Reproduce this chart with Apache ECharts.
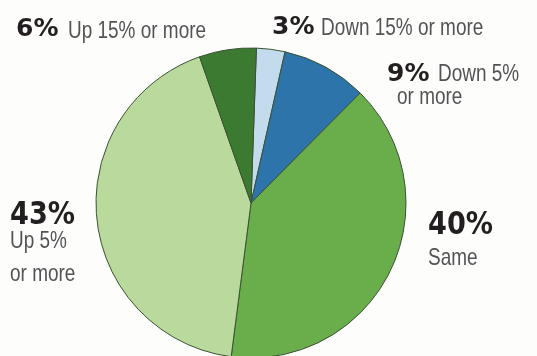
<!DOCTYPE html>
<html>
<head>
<meta charset="utf-8">
<style>
  html, body { margin: 0; padding: 0; background: #fdfdfb; }
  #chart { width: 537px; height: 356px; }
</style>
<script src="https://cdn.jsdelivr.net/npm/echarts@6/dist/echarts.min.js"></script>
</head>
<body>
<div id="chart"></div>
<script>
// Share of respondents by expected change, clockwise from the top
const categories = ['Down 15% or more', 'Down 5%\nor more', 'Same', 'Up 5%\nor more', 'Up 15% or more'];
const shares = [3, 9, 40, 43, 6];
const sliceColors = ['#c2dcee', '#2c74aa', '#6aad4b', '#bad99c', '#3d7a31'];

// Where each annotation sits: percentage baseline, then one baseline per text line
const labelLayout = [
  { px: 272, pb: 36, size: 25, sx: 1.0, lines: [[321, 37]] },
  { px: 387, pb: 83, size: 25, sx: 1.0, lines: [[438, 83], [397, 106]] },
  { px: 428, pb: 237, size: 32, sx: 0.85, lines: [[428, 267]] },
  { px: 10, pb: 227, size: 32, sx: 0.85, lines: [[10, 250], [10, 283]] },
  { px: 16, pb: 38, size: 25, sx: 1.0, lines: [[68, 40]] }
];

const chart = echarts.init(document.getElementById('chart'), null, { renderer: 'canvas' });

const BOLD = '"DejaVu Sans", sans-serif';
const LIGHT = '"Liberation Sans", Arial, sans-serif';
const BODY_SIZE = 24;
const BODY_SX = 0.79;

// canvas 'middle' sits roughly 0.35em above the alphabetic baseline
function fromBaseline(b, size) { return b - 0.35 * size; }

const texts = [];
shares.forEach((v, i) => {
  const L = labelLayout[i];
  texts.push({
    type: 'text', silent: true,
    x: L.px, y: fromBaseline(L.pb, L.size), scaleX: L.sx,
    style: {
      text: v + '%', x: 0, y: 0,
      font: 'bold ' + L.size + 'px ' + BOLD, fill: '#231f20',
      align: 'left', verticalAlign: 'middle'
    }
  });
  categories[i].split('\n').forEach((line, k) => {
    const pos = L.lines[k];
    texts.push({
      type: 'text', silent: true,
      x: pos[0], y: fromBaseline(pos[1], BODY_SIZE), scaleX: BODY_SX,
      style: {
        text: line, x: 0, y: 0,
        font: BODY_SIZE + 'px ' + LIGHT, fill: '#535355',
        align: 'left', verticalAlign: 'middle'
      }
    });
  });
});

chart.setOption({
  backgroundColor: '#fdfdfb',
  animation: false,
  series: [{
    type: 'pie',
    center: [251, 203],
    radius: 155,
    startAngle: 88,
    clockwise: true,
    silent: true,
    label: { show: false },
    labelLine: { show: false },
    itemStyle: { borderColor: '#3b5236', borderWidth: 1 },
    data: shares.map((v, i) => ({
      value: v,
      name: categories[i].replace('\n', ' '),
      itemStyle: { color: sliceColors[i] }
    }))
  }],
  graphic: texts
});
</script>
</body>
</html>
